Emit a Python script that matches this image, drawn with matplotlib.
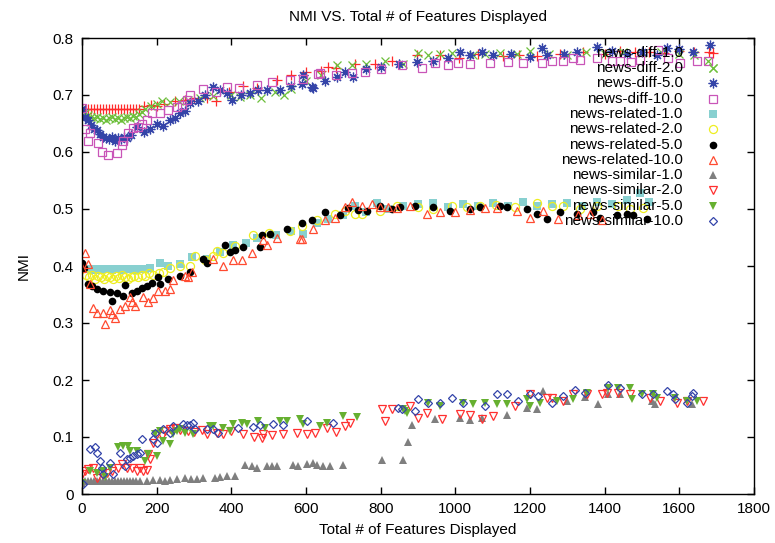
import numpy as np
import matplotlib
matplotlib.use("Agg")
import matplotlib.pyplot as plt

plt.rcParams['font.family'] = ['Liberation Sans', 'DejaVu Sans']

# ---- data ----
diff1_x = [0,8,16,24,32,40,48,56,64,72,80,88,96,104,112,120,128,136,144,152,
           165,185,200,220,250,275,300,335,360,395,
           431,470,522,560,600,640,659,680,731,785,
           830,897,959,1010,1060,1128,1170,1219,1280,1342,
           1400,1440,1480,1520,1560,1600,1640,1680]
diff1_y = [0.675,0.676,0.675,0.676,0.675,0.675,0.676,0.675,0.675,0.676,0.675,0.675,0.676,0.675,0.675,0.675,0.676,0.675,0.675,0.676,
           0.680,0.682,0.681,0.685,0.690,0.692,0.695,0.694,0.690,0.705,
           0.715,0.712,0.727,0.735,0.740,0.742,0.750,0.748,0.754,0.755,
           0.760,0.770,0.770,0.765,0.772,0.768,0.770,0.768,0.772,0.776,
           0.772,0.778,0.775,0.776,0.774,0.778,0.775,0.776]

diff2_x = [0,8,16,24,32,40,48,56,64,72,80,88,96,104,112,120,128,136,144,152,
           160,170,185,200,215,235,260,285,316,350,
           400,423,450,480,517,540,560,600,640,683,
           723,760,812,860,900,927,960,991,1048,1080,
           1120,1165,1200,1250,1300,1350,1400,1450,1500,1550,
           1600,1640,1677,1690]
diff2_y = [0.675,0.668,0.665,0.662,0.660,0.662,0.658,0.660,0.657,0.660,0.662,0.658,0.660,0.657,0.660,0.662,0.660,0.664,0.662,0.666,
           0.670,0.675,0.680,0.685,0.690,0.688,0.690,0.692,0.695,0.698,
           0.700,0.696,0.700,0.695,0.705,0.700,0.710,0.725,0.735,0.752,
           0.752,0.755,0.760,0.755,0.774,0.770,0.772,0.774,0.770,0.772,
           0.774,0.772,0.778,0.772,0.770,0.775,0.772,0.776,0.774,0.775,
           0.772,0.770,0.760,0.747]

diff5_x = [0,8,16,24,32,40,48,56,64,72,80,88,96,104,112,120,
           130,147,165,182,200,218,236,250,262,276,
           290,310,330,351,370,388,402,425,450,472,
           495,530,560,589,592,616,619,650,683,705,
           726,760,800,850,897,940,980,1012,1040,1071,
           1100,1150,1200,1232,1245,1290,1326,1380,1420,1460,
           1500,1540,1567,1600,1637,1682]
diff5_y = [0.675,0.662,0.656,0.648,0.640,0.638,0.632,0.626,0.625,0.622,0.626,0.620,0.624,0.622,0.626,0.624,
           0.630,0.643,0.635,0.640,0.650,0.645,0.656,0.660,0.668,0.672,
           0.686,0.690,0.700,0.714,0.708,0.703,0.691,0.700,0.703,0.708,
           0.709,0.709,0.715,0.720,0.735,0.714,0.712,0.725,0.731,0.740,
           0.731,0.745,0.750,0.755,0.758,0.760,0.765,0.775,0.770,0.775,
           0.770,0.772,0.767,0.782,0.770,0.772,0.776,0.784,0.778,0.772,
           0.775,0.770,0.782,0.780,0.775,0.788]

diff10_x = [0,8,16,21,43,54,70,94,107,110,
            123,137,150,161,174,188,209,230,254,268,
            281,290,324,360,388,420,469,510,557,592,
            632,638,680,723,758,800,857,911,946,980,
            1007,1039,1093,1140,1181,1232,1259,1289,1316,1334,
            1380,1420,1441,1470,1495,1543,1570,1602,1647,1677]
diff10_y = [0.678,0.640,0.620,0.633,0.615,0.600,0.594,0.598,0.612,0.620,
            0.633,0.642,0.644,0.650,0.656,0.668,0.668,0.673,0.679,0.682,
            0.691,0.700,0.710,0.705,0.714,0.712,0.717,0.722,0.726,0.728,
            0.736,0.738,0.735,0.738,0.740,0.745,0.753,0.747,0.756,0.752,
            0.756,0.755,0.756,0.758,0.757,0.756,0.760,0.760,0.765,0.762,
            0.765,0.760,0.760,0.758,0.762,0.779,0.765,0.756,0.760,0.760]

related1_x = [0,8,16,24,32,40,48,56,64,72,80,
              90,100,110,120,130,140,150,160,170,182,
              209,230,262,294,335,370,405,440,469,520,
              560,592,630,660,700,730,760,790,820,860,
              900,940,980,1020,1060,1100,1140,1180,1220,1260,
              1300,1340,1380,1420,1460,1495,1520]
related1_y = [0.395,0.394,0.395,0.393,0.394,0.395,0.393,0.394,0.395,0.394,0.393,
              0.395,0.394,0.393,0.395,0.394,0.393,0.395,0.394,0.395,0.396,
              0.406,0.400,0.404,0.415,0.412,0.425,0.436,0.440,0.450,0.455,
              0.462,0.457,0.475,0.482,0.490,0.505,0.495,0.510,0.500,0.505,
              0.508,0.510,0.503,0.508,0.505,0.510,0.506,0.512,0.505,0.508,
              0.510,0.506,0.512,0.508,0.515,0.528,0.512]

related2_x = [0,10,20,28,36,44,52,60,68,76,
              84,92,100,108,116,124,132,140,150,160,
              170,180,190,205,217,236,262,290,303,330,
              351,361,378,410,458,500,557,589,630,678,
              704,731,750,798,843,900,940,991,1030,1066,
              1110,1160,1219,1260,1289,1334,1380,1436,1468,1503]
related2_y = [0.397,0.385,0.380,0.384,0.378,0.382,0.380,0.377,0.383,0.380,
              0.378,0.382,0.379,0.384,0.380,0.377,0.381,0.383,0.380,0.384,
              0.382,0.387,0.385,0.388,0.390,0.397,0.400,0.400,0.418,0.410,
              0.418,0.427,0.422,0.435,0.454,0.458,0.462,0.471,0.480,0.492,
              0.497,0.492,0.492,0.497,0.506,0.503,0.500,0.505,0.503,0.505,
              0.507,0.503,0.510,0.506,0.505,0.500,0.505,0.505,0.500,0.501]

related5_x = [0,5,15,27,40,56,75,80,94,110,
              115,134,147,161,174,188,204,210,230,262,
              290,324,335,383,396,410,431,477,482,504,
              550,589,616,651,690,713,740,763,798,830,
              852,892,940,986,1039,1066,1120,1138,1192,1219,
              1246,1280,1326,1369,1388,1433,1460,1476,1513]
related5_y = [0.406,0.397,0.369,0.365,0.360,0.357,0.355,0.339,0.353,0.348,
              0.366,0.353,0.356,0.362,0.365,0.371,0.380,0.368,0.378,0.383,
              0.389,0.413,0.406,0.436,0.424,0.428,0.433,0.433,0.454,0.457,
              0.465,0.475,0.480,0.494,0.490,0.501,0.498,0.497,0.506,0.500,
              0.503,0.505,0.503,0.497,0.500,0.503,0.506,0.503,0.500,0.492,
              0.483,0.494,0.492,0.494,0.485,0.490,0.492,0.490,0.483]

related10_x = [0,8,16,21,30,40,56,62,75,80,
               88,102,115,129,135,142,163,177,190,204,
               222,236,245,276,285,294,351,378,405,428,
               455,485,495,522,584,589,620,651,678,704,
               723,750,777,798,820,843,879,924,959,999,
               1040,1080,1112,1165,1200,1235,1275,1329,1360,1393]
related10_y = [0.396,0.422,0.404,0.369,0.327,0.318,0.318,0.299,0.322,0.316,
               0.308,0.325,0.330,0.345,0.336,0.330,0.345,0.336,0.343,0.357,
               0.357,0.360,0.376,0.383,0.380,0.389,0.413,0.400,0.410,0.410,
               0.422,0.445,0.436,0.450,0.448,0.448,0.465,0.480,0.485,0.503,
               0.512,0.506,0.508,0.503,0.503,0.501,0.506,0.492,0.494,0.494,
               0.498,0.501,0.501,0.497,0.485,0.497,0.483,0.490,0.492,0.480]

similar1_x = [0,8,16,24,32,40,48,56,64,72,80,88,96,104,112,120,128,136,144,155,
              174,190,209,222,236,254,276,292,308,324,
              356,370,388,410,437,455,469,495,509,522,
              565,579,603,619,630,646,664,699,804,860,
              873,884,946,1012,1039,1071,1138,1192,1219,1235,
              1299,1347,1382,1409,1441,1527,1535,1634]
similar1_y = [0.019,0.022,0.023,0.022,0.023,0.022,0.023,0.023,0.022,0.023,0.023,0.022,0.023,0.023,0.022,0.023,0.023,0.022,0.023,0.023,
              0.023,0.024,0.024,0.023,0.024,0.026,0.028,0.026,0.027,0.028,
              0.028,0.030,0.032,0.032,0.051,0.049,0.046,0.050,0.050,0.050,
              0.051,0.049,0.053,0.054,0.051,0.049,0.050,0.051,0.060,0.059,
              0.091,0.121,0.132,0.133,0.130,0.134,0.139,0.151,0.150,0.181,
              0.164,0.171,0.158,0.176,0.176,0.164,0.158,0.158]

similar2_x = [0,8,16,30,40,54,67,80,96,107,
              120,134,147,155,163,174,177,182,190,201,
              214,222,236,249,262,284,300,321,335,362,
              378,400,431,460,482,485,510,538,576,603,
              624,656,680,704,718,804,812,830,879,900,
              924,964,1012,1040,1071,1101,1160,1200,1246,1259,
              1289,1316,1353,1393,1406,1436,1468,1522,1549,1594,
              1621,1664]
similar2_y = [0.035,0.040,0.044,0.046,0.028,0.035,0.037,0.040,0.046,0.053,
              0.045,0.046,0.040,0.046,0.040,0.042,0.070,0.062,0.090,0.105,
              0.102,0.111,0.114,0.115,0.112,0.110,0.108,0.112,0.105,0.107,
              0.105,0.110,0.105,0.100,0.098,0.106,0.104,0.105,0.107,0.105,
              0.107,0.116,0.108,0.120,0.125,0.149,0.128,0.149,0.155,0.134,
              0.142,0.132,0.141,0.138,0.132,0.137,0.155,0.176,0.169,0.169,
              0.164,0.176,0.176,0.176,0.178,0.178,0.176,0.169,0.164,0.160,
              0.164,0.164]

similar5_x = [0,21,40,56,62,75,96,110,123,129,
              147,169,177,196,201,209,217,236,244,254,
              262,276,297,343,351,378,396,405,428,442,
              472,490,530,549,584,592,638,656,699,737,
              860,865,871,927,960,1020,1047,1080,1112,1138,
              1192,1200,1227,1272,1316,1353,1409,1436,1468,1473,
              1500,1530,1540,1589,1621,1648]
similar5_y = [0.020,0.040,0.037,0.040,0.030,0.045,0.083,0.084,0.085,0.076,
              0.076,0.058,0.070,0.105,0.067,0.111,0.093,0.088,0.105,0.111,
              0.114,0.107,0.105,0.120,0.120,0.116,0.111,0.123,0.125,0.123,
              0.128,0.115,0.128,0.128,0.132,0.123,0.120,0.125,0.137,0.135,
              0.149,0.146,0.142,0.160,0.155,0.160,0.158,0.160,0.158,0.158,
              0.167,0.155,0.160,0.164,0.167,0.178,0.186,0.186,0.186,0.167,
              0.176,0.176,0.169,0.169,0.164,0.164]

similar10_x = [3,21,35,40,48,54,56,75,83,102,
               115,121,129,137,147,155,161,190,196,201,
               217,236,244,271,281,290,297,303,335,351,
               364,418,458,477,512,538,603,672,847,857,
               892,900,927,959,991,1020,1080,1112,1138,1168,
               1200,1222,1259,1289,1321,1347,1409,1441,1500,1530,
               1567,1583,1589,1621,1634,1637]
similar10_y = [0.018,0.079,0.083,0.072,0.058,0.046,0.035,0.055,0.035,0.072,
               0.049,0.062,0.064,0.067,0.070,0.072,0.097,0.097,0.107,0.090,
               0.114,0.107,0.120,0.123,0.121,0.121,0.125,0.114,0.114,0.114,
               0.107,0.116,0.118,0.121,0.123,0.121,0.128,0.125,0.151,0.149,
               0.146,0.167,0.160,0.160,0.169,0.160,0.155,0.176,0.176,0.164,
               0.176,0.172,0.160,0.172,0.183,0.178,0.192,0.186,0.176,0.176,
               0.181,0.176,0.167,0.160,0.172,0.178]

labels = ["news-diff-1.0", "news-diff-2.0", "news-diff-5.0", "news-diff-10.0",
          "news-related-1.0", "news-related-2.0", "news-related-5.0", "news-related-10.0",
          "news-similar-1.0", "news-similar-2.0", "news-similar-5.0", "news-similar-10.0"]
xs = [diff1_x, diff2_x, diff5_x, diff10_x, related1_x, related2_x, related5_x, related10_x,
      similar1_x, similar2_x, similar5_x, similar10_x]
ys = [diff1_y, diff2_y, diff5_y, diff10_y, related1_y, related2_y, related5_y, related10_y,
      similar1_y, similar2_y, similar5_y, similar10_y]

# gnuplot-like point styles
styles = [
    dict(marker='+', color='#ff2a2a', ms=6.5, mew=0.9),
    dict(marker='x', color='#6cbf3a', ms=5.5, mew=0.9),
    dict(marker=(8, 2, 0), color='#3444a8', ms=7, mew=0.9),
    dict(marker='s', mfc='none', mec='#c955b8', ms=5.5, mew=0.9),
    dict(marker='s', color='#88d0d0', ms=5.5, mew=0),
    dict(marker='o', mfc='none', mec='#eeee20', ms=5.8, mew=0.9),
    dict(marker='o', color='black', ms=5.5, mew=0),
    dict(marker='^', mfc='none', mec='#ff4a30', ms=5.8, mew=0.9),
    dict(marker='^', color='#7f7f7f', ms=5.5, mew=0),
    dict(marker='v', mfc='none', mec='#ff3030', ms=5.8, mew=0.9),
    dict(marker='v', color='#66b030', ms=5.5, mew=0),
    dict(marker='D', mfc='none', mec='#3344aa', ms=4.5, mew=0.9),
]

fig = plt.figure(figsize=(7.75, 5.43), dpi=100)
ax = fig.add_axes([82/775, 49/543, 672/775, 456/543])

for x, y, st in zip(xs, ys, styles):
    ax.plot(x, y, linestyle='none', **st)

# legend drawn gnuplot-style: right aligned text, marker to the right
for i, (lab, st) in enumerate(zip(labels, styles)):
    yy = 0.968 - i * 0.0336
    ax.text(0.894, yy, lab, transform=ax.transAxes, ha='right', va='center', fontsize=11)
    ax.plot([0.939], [yy], transform=ax.transAxes, clip_on=False, linestyle='none', **st)

ax.set_xlim(0, 1800)
ax.set_ylim(0, 0.8)
ax.set_xticks(np.arange(0, 1801, 200))
yt = np.arange(0, 0.81, 0.1)
ax.set_yticks(yt)
ax.set_yticklabels(['{:g}'.format(round(t, 1)) for t in yt])
ax.tick_params(direction='in', length=5, width=1, top=True, right=True, labelsize=11, pad=6)
for s in ax.spines.values():
    s.set_linewidth(1.0)

ax.set_title("NMI VS. Total # of Features Displayed", fontsize=11, pad=12)
ax.set_xlabel("Total # of Features Displayed", fontsize=11, labelpad=5)
ax.set_ylabel("NMI", fontsize=11, labelpad=16)

fig.savefig("out.png", dpi=100)
